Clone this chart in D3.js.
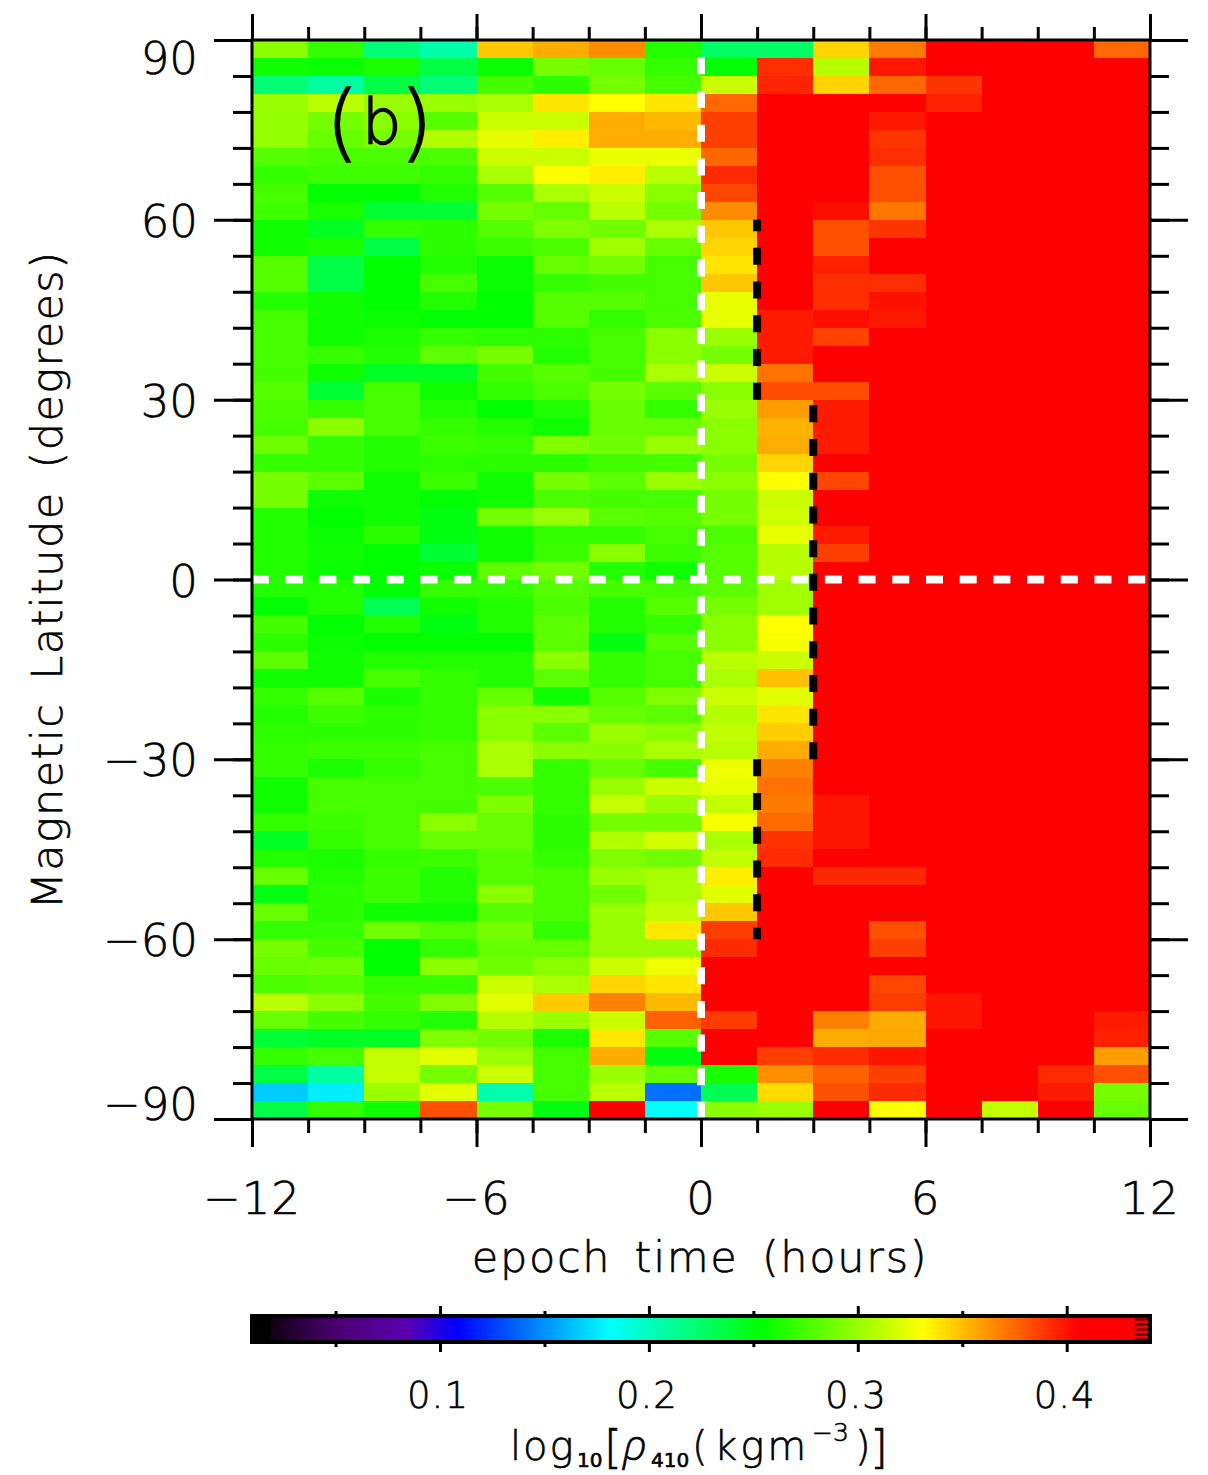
<!DOCTYPE html>
<html><head><meta charset="utf-8">
<script src="https://cdnjs.cloudflare.com/ajax/libs/d3/7.8.5/d3.min.js"></script>
<style>
html,body{margin:0;padding:0;background:#fff}
svg{display:block}
text{font-family:"DejaVu Sans",sans-serif;fill:#000;font-weight:200;stroke:#000;stroke-width:.6}
</style></head><body>
<svg id="c" width="1208" height="1475"></svg>
<script>
// log10 density at 410 km, in thousandths; rows run from +90 to -90 latitude, columns from -12 h to +12 h
const rho410 = [
[299,273,222,207,352,360,370,267,227,227,348,375,430,430,430,381],
[262,260,265,237,260,293,288,273,257,398,313,405,430,430,430,430],
[222,210,237,222,278,270,293,278,319,401,348,381,396,430,430,430],
[304,314,304,304,309,343,335,343,381,430,430,430,402,430,430,430],
[302,293,299,283,319,319,360,356,393,430,430,405,430,430,430,430],
[302,288,293,311,327,340,360,360,393,430,430,396,430,430,430,430],
[283,280,280,280,319,319,329,329,381,430,430,398,430,430,430,430],
[273,276,276,273,309,335,340,314,399,430,430,388,430,430,430,430],
[278,257,257,267,283,309,319,299,391,430,430,388,430,430,430,430],
[276,265,242,242,293,288,314,293,370,430,408,376,430,430,430,430],
[262,247,273,270,283,296,291,309,352,430,388,396,430,430,430,430],
[262,265,237,270,275,280,306,288,348,430,388,430,430,430,430,430],
[283,237,257,267,260,288,293,278,343,430,402,430,430,430,430,430],
[283,237,257,278,260,273,278,278,352,430,398,398,430,430,430,430],
[267,262,257,267,257,283,283,278,328,430,398,407,430,430,430,430],
[278,262,260,257,257,283,272,280,328,404,408,405,430,430,430,430],
[278,262,265,273,270,270,278,299,304,404,392,430,430,430,430,430],
[278,273,267,285,293,267,278,299,293,404,430,430,430,430,430,430],
[278,262,247,247,278,283,278,309,319,378,430,430,430,430,430,430],
[283,242,278,262,273,280,293,285,299,389,389,430,430,430,430,430],
[280,273,278,267,257,267,288,273,304,365,404,430,430,430,430,430],
[278,299,278,273,267,262,288,288,299,358,404,430,430,430,430,430],
[291,273,267,275,273,296,291,304,299,360,404,430,430,430,430,430],
[273,273,267,270,270,270,278,278,293,348,430,430,430,430,430,430],
[293,285,262,275,262,293,285,304,299,335,391,430,430,430,430,430],
[293,262,262,257,262,280,278,278,293,319,430,430,430,430,430,430],
[267,257,262,252,293,304,285,283,293,321,430,430,430,430,430,430],
[267,260,270,252,262,273,273,278,280,328,404,430,430,430,430,430],
[267,262,257,242,262,275,299,275,283,313,393,430,430,430,430,430],
[267,260,257,260,285,291,267,262,283,313,430,430,430,430,430,430],
[267,267,257,273,273,283,278,278,285,306,430,430,430,430,430,430],
[257,267,232,262,267,280,267,283,293,306,430,430,430,430,430,430],
[278,257,267,252,267,285,267,273,299,335,430,430,430,430,430,430],
[270,260,257,257,257,285,252,283,299,332,430,430,430,430,430,430],
[285,262,267,267,267,299,273,278,314,319,430,430,430,430,430,430],
[262,262,278,273,267,285,273,278,309,354,430,430,430,430,430,430],
[273,283,265,273,288,262,283,296,319,326,430,430,430,430,430,430],
[267,275,270,273,299,299,288,285,311,343,430,430,430,430,430,430],
[270,270,270,273,299,285,304,299,316,350,430,430,430,430,430,430],
[273,275,275,278,309,299,299,309,314,360,430,430,430,430,430,430],
[273,265,273,278,309,273,288,278,330,373,430,430,430,430,430,430],
[262,278,278,278,280,273,304,319,328,378,430,430,430,430,430,430],
[262,278,278,278,296,273,317,304,317,375,406,430,430,430,430,430],
[273,275,278,299,288,270,293,293,332,380,406,430,430,430,430,430],
[247,273,278,288,288,270,311,321,309,397,406,430,430,430,430,430],
[267,265,273,275,283,273,296,291,316,399,430,430,430,430,430,430],
[288,267,275,267,283,280,304,308,340,430,400,400,430,430,430,430],
[252,270,275,267,299,280,291,309,326,430,430,430,430,430,430,430],
[288,270,262,262,283,280,304,316,352,430,430,430,430,430,430,430],
[273,273,291,283,293,273,304,342,394,430,430,388,430,430,430,430],
[293,278,257,273,288,288,304,304,399,430,430,393,430,430,430,430],
[288,291,257,299,291,299,319,330,430,430,430,430,430,430,430,430],
[280,283,273,273,319,309,348,343,430,430,430,391,430,430,430,430],
[314,299,278,296,326,351,373,356,430,430,430,394,406,430,430,430],
[288,278,273,267,313,304,319,383,394,430,373,360,406,430,430,404],
[242,247,247,296,291,265,342,283,430,430,360,361,430,430,430,402],
[273,278,317,326,304,278,360,252,430,393,399,406,430,430,430,365],
[237,210,317,293,319,278,304,288,264,369,383,393,430,430,399,388],
[167,177,304,326,207,278,314,141,232,346,388,399,430,430,404,293],
[237,273,262,388,293,252,430,182,299,304,430,335,430,317,430,288]
];
const latEdgesTop = d3.range(90, -90, -3);   // top latitude of each row
const timeEdges = d3.range(-12, 12, 1.5);    // left time of each column
const xMajor = [-12,-6,0,6,12];
const xMinor = d3.range(-12, 12.01, 1.5);
const yMajor = [90,60,30,0,-30,-60,-90];
const yMinor = d3.range(-90, 90.01, 6);
const xLabels = ["\u221212","\u22126","0","6","12"];
const yLabels = ["90","60","30","0","\u221230","\u221260","\u221290"];
const cbMajor = [0.1,0.2,0.3,0.4];
const cbMinor = [0.05,0.15,0.25,0.35];
const cbLabels = ["0.1","0.2","0.3","0.4"];
const cmapColors = ["#000000","#120012","#4a0070","#5a00b0","#0000ff","#00ffff","#00ff00","#ffff00","#ff0000","#ff0000"];
const cellStops = [0,19,50,84,109,182,257,335,412,440];
const barStops  = [0,19,50,84,108,181,254,331,405,440];
// arrival-time front: [lat start, lat end, hours]
const frontSegs = [[-30,-60,1.5],[-30,30,3],[30,60,1.5]];

const svg = d3.select("#c");
const x = d3.scaleLinear().domain([-12,12]).range([252,1150]);
const y = d3.scaleLinear().domain([-90,90]).range([1119,40]);
const color = d3.scaleLinear().domain(cellStops).range(cmapColors).clamp(true);
const barColor = d3.scaleLinear().domain(barStops).range(cmapColors).clamp(true);

// cells
const cells = rho410.flatMap((r,i)=>r.map((v,j)=>({v,lat:latEdgesTop[i],t:timeEdges[j]})));
svg.append("g").attr("shape-rendering","crispEdges").selectAll("rect").data(cells).join("rect")
  .attr("x",d=>x(d.t)).attr("y",d=>y(d.lat))
  .attr("width",d=>x(d.t+1.5)-x(d.t)+0.5).attr("height",d=>y(d.lat-3)-y(d.lat)+0.5)
  .attr("fill",d=>color(d.v));

// dashed reference lines
const dash="17 16.7";
svg.append("line").attr("x1",x(0)).attr("x2",x(0)).attr("y1",y(-90)).attr("y2",y(90))
  .attr("stroke","#fff").attr("stroke-width",8).attr("stroke-dasharray",dash);
svg.append("line").attr("x1",x(-12)).attr("x2",x(12)).attr("y1",y(0)).attr("y2",y(0))
  .attr("stroke","#fff").attr("stroke-width",8).attr("stroke-dasharray",dash);
svg.append("g").selectAll("line").data(frontSegs).join("line")
  .attr("x1",d=>x(d[2])).attr("x2",d=>x(d[2])).attr("y1",d=>y(d[0])).attr("y2",d=>y(d[1]))
  .attr("stroke","#000").attr("stroke-width",8).attr("stroke-dasharray",dash);

// axes
function styleAxis(g){
  g.select(".domain").remove();
  g.selectAll("line").attr("stroke","#000").attr("stroke-width",3);
  g.selectAll("text").remove();
}
const none=()=> "";
[[d3.axisLeft,252,38,19],[d3.axisRight,1150,38,19]].forEach(([ax,tx,M,m])=>{
  svg.append("g").attr("transform",`translate(${tx},0)`).call(ax(y).tickValues(yMinor).tickSize(m).tickFormat(none)).call(styleAxis);
  svg.append("g").attr("transform",`translate(${tx},0)`).call(ax(y).tickValues(yMajor).tickSize(M).tickFormat(none)).call(styleAxis);
});
[[d3.axisTop,40,26,13],[d3.axisBottom,1119,28,14]].forEach(([ax,ty,M,m])=>{
  svg.append("g").attr("transform",`translate(0,${ty})`).call(ax(x).tickValues(xMinor).tickSize(m).tickFormat(none)).call(styleAxis);
  svg.append("g").attr("transform",`translate(0,${ty})`).call(ax(x).tickValues(xMajor).tickSize(M).tickFormat(none)).call(styleAxis);
});
// frame
svg.append("rect").attr("x",252).attr("y",40).attr("width",898).attr("height",1079)
  .attr("fill","none").attr("stroke","#000").attr("stroke-width",3);

// tick labels
const fs=45;
svg.append("g").selectAll("text").data(yMajor).join("text")
  .attr("x",198).attr("y",d=>y(d)+(d===90?34:d===-90?1:17))
  .attr("text-anchor","end").attr("font-size",fs)
  .text((d,i)=>yLabels[i]);
svg.append("g").selectAll("text").data(xMajor).join("text")
  .attr("x",d=>x(d)).attr("y",1214).attr("text-anchor","middle")
  .attr("font-size",fs).attr("letter-spacing",1).text((d,i)=>xLabels[i]);

svg.append("text").attr("x",700).attr("y",1272).attr("text-anchor","middle")
  .attr("font-size",43).attr("letter-spacing",1.7).attr("word-spacing",8).text("epoch time (hours)");
svg.append("text").attr("transform","translate(62,580) rotate(-90)").attr("text-anchor","middle")
  .attr("font-size",43).attr("letter-spacing",1.4).attr("word-spacing",8).text("Magnetic Latitude (degrees)");
const pl = svg.append("text").attr("y",151).style("stroke-width",1.5);
pl.append("tspan").attr("x",326).attr("font-size",84).text("(");
pl.append("tspan").attr("x",362).attr("y",143).attr("font-size",62).text("b");
pl.append("tspan").attr("x",400).attr("y",151).attr("font-size",84).text(")");

// colour bar
const cb = d3.scaleLinear().domain([0.1,0.4]).range([440,1066.7]);
const cbY0=1316, cbY1=1342;
const cbVals = d3.range(cb.invert(252), cb.invert(1150), 0.0005);
svg.append("g").attr("shape-rendering","crispEdges").selectAll("rect").data(cbVals).join("rect")
  .attr("x",d=>cb(d)).attr("y",cbY0).attr("width",1.6).attr("height",cbY1-cbY0)
  .attr("fill",d=>barColor(d*1000));
// black left end and hatched saturated right end of the bar
svg.append("rect").attr("x",252).attr("y",cbY0).attr("width",cb(0.0187)-252).attr("height",cbY1-cbY0).attr("fill","#000");
svg.append("g").selectAll("line").data(d3.range(cbY0+3.5,cbY1,5)).join("line")
  .attr("x1",cb(0.4325)).attr("x2",1150).attr("y1",d=>d).attr("y2",d=>d)
  .attr("stroke","#400").attr("stroke-width",2);
svg.append("rect").attr("x",252).attr("y",cbY0).attr("width",898).attr("height",cbY1-cbY0)
  .attr("fill","none").attr("stroke","#000").attr("stroke-width",4);
[[d3.axisTop,cbY0,10,5],[d3.axisBottom,cbY1,10,5]].forEach(([ax,ty,M,m])=>{
  svg.append("g").attr("transform",`translate(0,${ty})`).call(ax(cb).tickValues(cbMinor).tickSize(m).tickFormat(none)).call(styleAxis);
  svg.append("g").attr("transform",`translate(0,${ty})`).call(ax(cb).tickValues(cbMajor).tickSize(M).tickFormat(none)).call(styleAxis);
});
svg.append("g").selectAll("text").data(cbMajor).join("text")
  .attr("x",d=>cb(d)-2).attr("y",1408).attr("text-anchor","middle").attr("font-size",37).attr("letter-spacing",1)
  .text((d,i)=>cbLabels[i]);

// colour bar title
const t = svg.append("text").attr("y",1460).attr("font-size",40);
t.append("tspan").attr("x",510).attr("letter-spacing",2).text("log");
t.append("tspan").attr("x",577).attr("y",1467).attr("font-size",20).attr("font-weight",500).text("10");
t.append("tspan").attr("x",604).attr("y",1463).attr("font-size",46).text("[");
t.append("tspan").attr("x",623).attr("y",1460).attr("font-size",42).style("font-family","'Open Sans'").attr("font-style","italic").attr("font-weight",300).text("\u03c1");
t.append("tspan").attr("x",651).attr("y",1467).attr("font-size",20).attr("font-weight",500).text("410");
t.append("tspan").attr("x",692).attr("y",1460).text("(");
t.append("tspan").attr("x",714).attr("letter-spacing",3).text("kgm");
t.append("tspan").attr("x",812).attr("y",1441).attr("font-size",25).text("\u22123");
t.append("tspan").attr("x",855).attr("y",1460).text(")");
t.append("tspan").attr("x",870).attr("y",1463).attr("font-size",46).text("]");
</script></body></html>
